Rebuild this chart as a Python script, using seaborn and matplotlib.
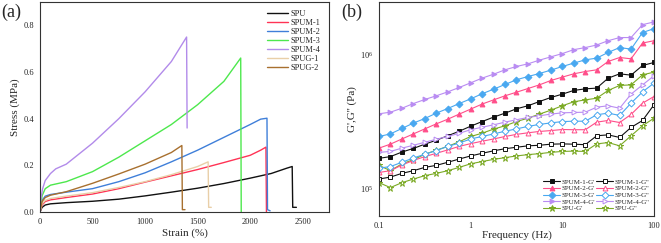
import numpy as np
import pandas as pd
import matplotlib
matplotlib.use("Agg")
import matplotlib.pyplot as plt
import matplotlib.ticker as mticker
import seaborn as sns

# ---- (a) stress-strain data ----
spu_strain = [0, 20, 50, 100, 250, 500, 750, 1000, 1250, 1500, 1750, 2000, 2200, 2350, 2400, 2405, 2440]
spu_stress = [0, 0.02, 0.03, 0.035, 0.04, 0.046, 0.055, 0.069, 0.085, 0.102, 0.122, 0.145, 0.165, 0.188, 0.195, 0.02, 0.02]
spum1_strain = [0, 20, 50, 100, 250, 500, 750, 1000, 1250, 1500, 1750, 2000, 2100, 2150, 2155]
spum1_stress = [0, 0.03, 0.045, 0.052, 0.062, 0.077, 0.1, 0.128, 0.155, 0.182, 0.212, 0.243, 0.265, 0.278, 0.0]
spum2_strain = [0, 20, 50, 100, 250, 500, 750, 1000, 1250, 1500, 1750, 2000, 2100, 2160, 2165, 2190]
spum2_stress = [0, 0.05, 0.068, 0.075, 0.085, 0.1, 0.13, 0.168, 0.215, 0.265, 0.32, 0.375, 0.398, 0.402, 0.01, 0.005]
spum3_strain = [0, 20, 50, 100, 250, 500, 750, 1000, 1250, 1500, 1750, 1910, 1915]
spum3_stress = [0, 0.07, 0.1, 0.115, 0.13, 0.173, 0.235, 0.305, 0.375, 0.46, 0.56, 0.66, 0.0]
spum4_strain = [0, 10, 25, 50, 100, 150, 250, 500, 750, 1000, 1250, 1395, 1400]
spum4_stress = [0, 0.06, 0.1, 0.135, 0.165, 0.185, 0.205, 0.295, 0.4, 0.515, 0.645, 0.75, 0.36]
spug1_strain = [0, 20, 50, 100, 250, 500, 750, 1000, 1250, 1500, 1600, 1605, 1630]
spug1_stress = [0, 0.035, 0.05, 0.058, 0.068, 0.083, 0.105, 0.13, 0.16, 0.195, 0.215, 0.02, 0.02]
spug2_strain = [0, 20, 50, 100, 250, 500, 750, 1000, 1250, 1350, 1355, 1380]
spug2_stress = [0, 0.045, 0.062, 0.072, 0.087, 0.123, 0.163, 0.205, 0.255, 0.285, 0.01, 0.01]

curves_a = [
    ("SPU", spu_strain, spu_stress, "#111111"),
    ("SPUM-1", spum1_strain, spum1_stress, "#FF3355"),
    ("SPUM-2", spum2_strain, spum2_stress, "#3F7FD9"),
    ("SPUM-3", spum3_strain, spum3_stress, "#4DE84D"),
    ("SPUM-4", spum4_strain, spum4_stress, "#B28BEA"),
    ("SPUG-1", spug1_strain, spug1_stress, "#E9CFA8"),
    ("SPUG-2", spug2_strain, spug2_stress, "#A8702F"),
]

# ---- (b) frequency sweep data (Pa) ----
freq = [0.1, 0.133, 0.178, 0.237, 0.316, 0.422, 0.562, 0.75, 1.0, 1.33, 1.78, 2.37, 3.16,
        4.22, 5.62, 7.5, 10.0, 13.3, 17.8, 23.7, 31.6, 42.2, 56.2, 75.0, 100.0]
spum1_g1 = [1.67e5, 1.72e5, 1.86e5, 1.98e5, 2.13e5, 2.28e5, 2.46e5, 2.66e5, 2.90e5, 3.14e5, 3.39e5, 3.63e5, 3.91e5,
            4.12e5, 4.43e5, 4.75e5, 5.03e5, 5.36e5, 5.51e5, 5.58e5, 6.62e5, 7.13e5, 6.97e5, 8.23e5, 8.67e5]
spum2_g1 = [1.99e5, 2.13e5, 2.33e5, 2.54e5, 2.77e5, 3.02e5, 3.27e5, 3.57e5, 3.89e5, 4.24e5, 4.56e5, 4.89e5, 5.20e5,
            5.54e5, 5.90e5, 6.36e5, 6.74e5, 7.13e5, 7.42e5, 7.64e5, 8.82e5, 9.44e5, 9.23e5, 1.21e6, 1.26e6]
spum3_g1 = [2.43e5, 2.54e5, 2.79e5, 3.06e5, 3.31e5, 3.63e5, 3.93e5, 4.28e5, 4.64e5, 5.06e5, 5.48e5, 5.94e5, 6.44e5,
            6.81e5, 7.17e5, 7.60e5, 8.09e5, 8.57e5, 9.07e5, 9.34e5, 1.03e6, 1.12e6, 1.09e6, 1.45e6, 1.55e6]
spum4_g1 = [3.59e5, 3.69e5, 3.95e5, 4.28e5, 4.59e5, 4.89e5, 5.23e5, 5.64e5, 6.11e5, 6.62e5, 7.09e5, 7.64e5, 8.09e5,
            8.47e5, 9.02e5, 9.55e5, 1.01e6, 1.08e6, 1.12e6, 1.17e6, 1.26e6, 1.33e6, 1.33e6, 1.66e6, 1.74e6]
spu_g1 = [1.48e5, 1.35e5, 1.52e5, 1.63e5, 1.79e5, 1.92e5, 2.05e5, 2.22e5, 2.43e5, 2.57e5, 2.76e5, 2.92e5, 3.14e5,
          3.33e5, 3.57e5, 3.82e5, 4.12e5, 4.41e5, 4.56e5, 4.69e5, 5.36e5, 5.84e5, 5.90e5, 7.01e5, 7.34e5]
spum1_g2 = [1.17e5, 1.21e5, 1.29e5, 1.35e5, 1.43e5, 1.48e5, 1.56e5, 1.65e5, 1.74e5, 1.82e5, 1.90e5, 1.97e5, 2.02e5,
            2.07e5, 2.09e5, 2.13e5, 2.14e5, 2.13e5, 2.11e5, 2.46e5, 2.50e5, 2.39e5, 2.84e5, 3.20e5, 4.19e5]
spum2_g2 = [1.31e5, 1.35e5, 1.49e5, 1.61e5, 1.72e5, 1.82e5, 1.93e5, 2.05e5, 2.15e5, 2.24e5, 2.33e5, 2.43e5, 2.52e5,
            2.59e5, 2.65e5, 2.69e5, 2.74e5, 2.73e5, 2.73e5, 3.11e5, 3.20e5, 3.09e5, 3.55e5, 4.31e5, 4.83e5]
spum3_g2 = [1.41e5, 1.45e5, 1.56e5, 1.68e5, 1.79e5, 1.91e5, 2.05e5, 2.17e5, 2.33e5, 2.43e5, 2.54e5, 2.66e5, 2.77e5,
            2.89e5, 2.99e5, 3.07e5, 3.14e5, 3.16e5, 3.16e5, 3.53e5, 3.63e5, 3.49e5, 4.31e5, 5.23e5, 6.08e5]
spum4_g2 = [1.85e5, 1.88e5, 1.99e5, 2.09e5, 2.20e5, 2.32e5, 2.43e5, 2.57e5, 2.73e5, 2.85e5, 2.97e5, 3.11e5, 3.24e5,
            3.37e5, 3.47e5, 3.57e5, 3.65e5, 3.67e5, 3.69e5, 4.02e5, 4.12e5, 3.95e5, 5.03e5, 5.90e5, 6.89e5]
spu_g2 = [1.10e5, 1.01e5, 1.10e5, 1.17e5, 1.24e5, 1.29e5, 1.35e5, 1.43e5, 1.52e5, 1.58e5, 1.64e5, 1.69e5, 1.74e5,
          1.78e5, 1.81e5, 1.85e5, 1.88e5, 1.89e5, 1.88e5, 2.14e5, 2.19e5, 2.07e5, 2.46e5, 2.92e5, 3.33e5]

series_b = [
    ("SPUM-1-G'", spum1_g1, "#111111", "s", True),
    ("SPUM-2-G'", spum2_g1, "#FF4E8A", "^", True),
    ("SPUM-3-G'", spum3_g1, "#49A8F0", "D", True),
    ("SPUM-4-G'", spum4_g1, "#B98CF2", ">", True),
    ("SPU-G'", spu_g1, "#7BAA25", "*", True),
    ("SPUM-1-G''", spum1_g2, "#111111", "s", False),
    ("SPUM-2-G''", spum2_g2, "#FF4E8A", "^", False),
    ("SPUM-3-G''", spum3_g2, "#49A8F0", "D", False),
    ("SPUM-4-G''", spum4_g2, "#B98CF2", ">", False),
    ("SPU-G''", spu_g2, "#7BAA25", "*", False),
]


def style_axis(ax):
    for sp in ax.spines.values():
        sp.set_visible(True)
        sp.set_color("#333333")
        sp.set_linewidth(0.8)
    ax.tick_params(which="both", direction="out", labelsize=6, width=0.6, color="#333333", pad=1.5)
    ax.tick_params(which="major", length=2.5)
    ax.tick_params(which="minor", length=1.5)
    ax.grid(False)


def main():
    sns.set_theme(style="white")
    plt.rcParams["font.family"] = ["Liberation Serif", "DejaVu Serif"]
    plt.rcParams["mathtext.fontset"] = "stix"

    fig = plt.figure(figsize=(6.61, 2.43), dpi=100)
    ax1 = fig.add_axes([0.0605, 0.1276, 0.4372, 0.864])
    ax2 = fig.add_axes([0.5734, 0.1111, 0.416, 0.8807])

    # (a)
    for name, sx, sy, col in curves_a:
        df = pd.DataFrame({"strain": sx, "stress": sy})
        sns.lineplot(data=df, x="strain", y="stress", ax=ax1, color=col, linewidth=1.0,
                     sort=False, estimator=None, label=name)
    ax1.set_xlim(0, 2750)
    ax1.set_ylim(0, 0.9)
    ax1.set_xticks([0, 500, 1000, 1500, 2000, 2500])
    ax1.set_yticks([0.0, 0.2, 0.4, 0.6, 0.8])
    ax1.yaxis.set_major_formatter(mticker.FormatStrFormatter("%.1f"))
    ax1.xaxis.set_minor_locator(mticker.MultipleLocator(250))
    ax1.yaxis.set_minor_locator(mticker.MultipleLocator(0.1))
    style_axis(ax1)
    ax1.set_xlabel("Strain (%)", fontsize=8, labelpad=2)
    ax1.set_ylabel("Stress (MPa)", fontsize=8, labelpad=3)
    ax1.legend(loc="upper right", fontsize=6, frameon=False, handlelength=2.6,
               handletextpad=0.3, labelspacing=0.12, borderaxespad=0.6)

    # (b)
    for name, vals, col, mk, filled in series_b:
        df = pd.DataFrame({"freq": freq, "mod": vals})
        sns.lineplot(data=df, x="freq", y="mod", ax=ax2, color=col, linewidth=0.8,
                     marker=mk, markersize=4.8 if mk == "*" else 3.5,
                     markerfacecolor=col if filled else "white",
                     markeredgecolor=col, markeredgewidth=0.7,
                     sort=False, estimator=None, label=name)
    ax2.set_xscale("log")
    ax2.set_yscale("log")
    ax2.set_xlim(0.1, 100)
    ax2.set_ylim(6.2e4, 2.45e6)
    ax2.xaxis.set_major_locator(mticker.FixedLocator([0.1, 1, 10, 100]))
    ax2.xaxis.set_major_formatter(mticker.FixedFormatter(["0.1", "1", "10", "100"]))
    style_axis(ax2)
    ax2.set_xlabel("Frequency (Hz)", fontsize=8, labelpad=0.5)
    ax2.set_ylabel("G',G'' (Pa)", fontsize=8, labelpad=2)
    ax2.legend(loc="lower right", ncol=2, fontsize=5, frameon=False, handlelength=2.4,
               handletextpad=0.2, labelspacing=0.1, columnspacing=0.2, borderaxespad=0.3)

    fig.text(0.002, 0.985, "(a)", fontsize=13, ha="left", va="top")
    fig.text(0.517, 0.985, "(b)", fontsize=13, ha="left", va="top")

    fig.savefig("out.png", dpi=100)
    plt.close(fig)


if __name__ == "__main__":
    main()
